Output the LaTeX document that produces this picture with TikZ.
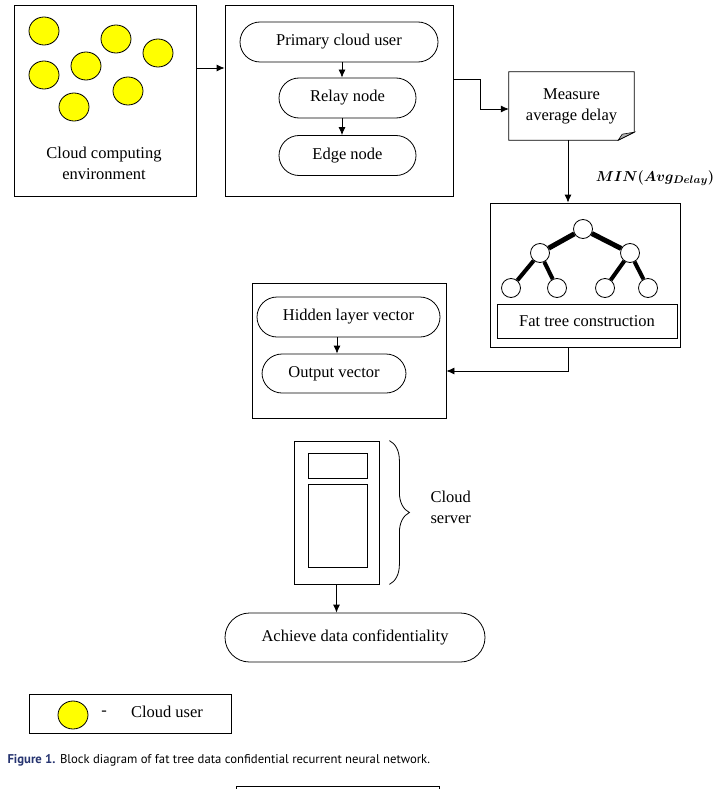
\documentclass[tikz,border=0pt]{standalone}
\usepackage{fontspec}
\usepackage{amsmath}
\setmainfont{Liberation Serif}
\newfontfamily\capfont{PT Sans}
\usetikzlibrary{arrows.meta,shapes.geometric,decorations.pathreplacing}
\definecolor{useryellow}{RGB}{255,255,0}
\definecolor{capblue}{RGB}{38,52,112}

\begin{document}
\begin{tikzpicture}[x=1pt,y=-1pt,
	font=\fontsize{16.5}{21}\selectfont,
	box/.style={draw,line width=0.8pt,inner sep=0pt},
	pill/.style={draw,line width=0.8pt,rounded corners=20pt,inner sep=0pt},
	user/.style={ellipse,draw,fill=useryellow,line width=0.8pt,minimum width=30pt,minimum height=28pt,inner sep=0pt},
	tnode/.style={circle,draw,line width=0.8pt,minimum size=19pt,inner sep=0pt},
	arr/.style={-{Latex[length=8pt,width=7pt]},line width=0.8pt}]
	\useasboundingbox (0,0) rectangle (714,789);
	\node[box,minimum width=182pt,minimum height=191pt] (env) at (105,100.5) {};
	\node[user] (u1) at (44,31) {};
	\node[user] (u2) at (116,39) {};
	\node[user] (u3) at (158,53) {};
	\node[user] (u4) at (44,75) {};
	\node[user] (u5) at (86,66) {};
	\node[user] (u6) at (128,91) {};
	\node[user] (u7) at (74,107) {};
	\node[align=center] (envtxt) at (104,163) {Cloud computing\\environment};
	\node[box,minimum width=228pt,minimum height=191pt] (proc) at (339,100.5) {};
	\node[pill,minimum width=198pt,minimum height=40pt] (prim) at (339,42) {Primary cloud user};
	\node[pill,minimum width=137pt,minimum height=40pt] (relay) at (347.5,98) {Relay node};
	\node[pill,minimum width=137pt,minimum height=40pt] (edge) at (347.5,155.5) {Edge node};
	\draw[arr] (env.east |- 0,68) -- (proc.west |- 0,68);
	\draw[arr] ([xshift=3pt]prim.south) -- ([xshift=3pt]prim.south |- relay.north);
	\draw[arr] ([xshift=-5.5pt]relay.south) -- ([xshift=-5.5pt]relay.south |- edge.north);
	\node[minimum width=125pt,minimum height=68pt,inner sep=0pt,align=center] (meas) at (571.5,106) {Measure\\average delay};
	\draw[line width=0.8pt] (meas.north west) -- (meas.north east) -- ([yshift=8pt]meas.south east)
		-- ([xshift=-16pt]meas.south east) -- (meas.south west) -- cycle;
	\draw[line width=0.6pt,fill=gray!60] ([yshift=8pt]meas.south east) -- ([xshift=-12pt,yshift=6pt]meas.south east)
		-- ([xshift=-16pt]meas.south east) -- cycle;
	\draw[arr] ([yshift=21.5pt]proc.east) -- ++(27,0) |- ([yshift=-3pt]meas.west);
	\node[box,minimum width=190pt,minimum height=144pt] (fat) at (585,275) {};
	\draw[arr] ([xshift=-3.5pt]meas.south) -- ([xshift=-3.5pt]meas.south |- fat.north);
	\node (minlbl) at (655,178) {\fontsize{15}{17}\selectfont$\boldsymbol{MIN(Avg_{Delay})}$};
	\node[tnode] (t0) at (583,229) {};
	\node[tnode] (t1) at (540,253) {};
	\node[tnode] (t2) at (630,253) {};
	\node[tnode] (t3) at (511,288) {};
	\node[tnode] (t4) at (557,288) {};
	\node[tnode] (t5) at (605,288) {};
	\node[tnode] (t6) at (648,288) {};
	\draw[line width=5pt] (t0) -- (t1);
	\draw[line width=5pt] (t0) -- (t2);
	\draw[line width=4pt] (t1) -- (t3);
	\draw[line width=4pt] (t1) -- (t4);
	\draw[line width=4pt] (t2) -- (t5);
	\draw[line width=4pt] (t2) -- (t6);
	\node[box,minimum width=180pt,minimum height=34pt] (fattxt) at (587,321) {Fat tree construction};
	\node[box,minimum width=194pt,minimum height=135pt] (rnn) at (349,350.5) {};
	\node[pill,minimum width=183pt,minimum height=40pt] (hid) at (348.5,317) {Hidden layer vector};
	\node[pill,minimum width=144pt,minimum height=39pt] (out) at (334,373.5) {Output vector};
	\draw[arr] ([xshift=-11.5pt]hid.south) -- ([xshift=-11.5pt]hid.south |- out.north);
	\draw[arr] ([xshift=-17pt]fat.south) |- ([yshift=-20.5pt]rnn.east);
	\node[box,minimum width=85pt,minimum height=143pt] (srv) at (336.5,512.5) {};
	\node[box,minimum width=59pt,minimum height=25pt] (srvtop) at (337.5,465.5) {};
	\node[box,minimum width=59pt,minimum height=83pt] (srvbot) at (337.5,525.5) {};
	\draw[line width=0.8pt,decorate,decoration={brace,amplitude=20pt}] ([xshift=10pt]srv.north east) -- ([xshift=10pt]srv.south east);
	\node[anchor=west,align=left] (srvtxt) at (427,507) {Cloud\\server};
	\node[draw,line width=0.8pt,rounded corners=24.5pt,minimum width=260pt,minimum height=49pt,inner sep=0pt] (ach) at (355,637.5) {Achieve data confidentiality};
	\draw[arr] (srv.south) -- (srv.south |- ach.north);
	\node[box,minimum width=202pt,minimum height=39pt] (legend) at (130,713.5) {};
	\node[user] (lu) at (73,715) {};
	\node (dash) at (104,713) {-};
	\node (lutxt) at (167,712) {Cloud user};
	\node[anchor=west] (cap) at (4,760) {\capfont\fontsize{12.7}{15}\selectfont\textcolor{capblue}{\bfseries Figure 1.} Block diagram of fat tree data confidential recurrent neural network.};
	\node[box,minimum width=203pt,minimum height=20pt] (next) at (337.5,796) {};
\end{tikzpicture}
\end{document}
